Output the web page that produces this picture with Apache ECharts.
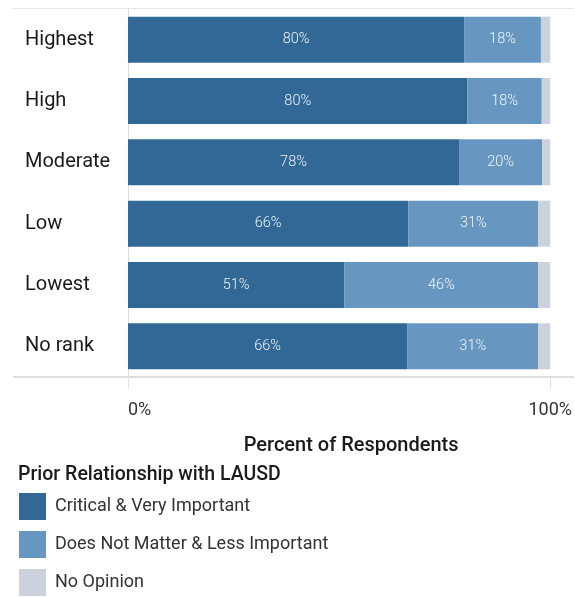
<!DOCTYPE html>
<html><head><meta charset="utf-8">
<script src="https://cdn.jsdelivr.net/npm/echarts@6/dist/echarts.min.js"></script>
<style>html,body{margin:0;padding:0;background:#fff}#c{width:575px;height:597px}</style>
</head><body><div id="c"></div>
<script>
const categories = ['Highest','High','Moderate','Low','Lowest','No rank'];
const seriesNames = ['Critical & Very Important','Does Not Matter & Less Important','No Opinion'];
const critical = [79.6, 80.4, 78.4, 66.4, 51.2, 66.1];
const notMatter = [18.2, 17.6, 19.7, 30.8, 46.0, 31.1];
const noOpinion = [2.2, 2.0, 1.9, 2.8, 2.8, 2.8];
const xTicks = [0, 100];
const colors = ['#326895', '#6797c0', '#cbd2dd'];
const FONT = 'Roboto, "Liberation Sans", sans-serif';

const chart = echarts.init(document.getElementById('c'), null, {renderer:'canvas'});
const lbl = {show:true, position:'inside', color:'rgba(255,255,255,0.92)', fontSize:14.5, fontFamily:FONT, fontWeight:300,
  formatter: p => Math.round(p.value) + '%'};
chart.setOption({
  animation:false,
  color: colors,
  textStyle:{fontFamily:FONT},
  grid:{left:128, right:18, top:9, bottom:220, containLabel:false},
  title:{text:'Prior Relationship with LAUSD', left:13, top:460,
    textStyle:{fontSize:19.5, fontWeight:500, color:'#1a1a1a', fontFamily:FONT}},
  legend:{orient:'vertical', left:19, top:493, padding:0, itemWidth:27, itemHeight:27, itemGap:11, icon:'rect',
    data: seriesNames,
    textStyle:{fontSize:18, color:'#333', fontFamily:FONT, padding:[0,0,0,4]}},
  xAxis:{type:'value', min:xTicks[0], max:xTicks[1], interval:100,
    axisLine:{show:false},
    axisTick:{show:true, length:12, lineStyle:{color:'#e3e3e3'}},
    splitLine:{show:false},
    axisLabel:{fontSize:18, color:'#333', margin:24, formatter: v => v + '%', alignMinLabel:'left'},
    name:'Percent of Respondents', nameLocation:'middle', nameGap:59,
    nameTextStyle:{fontSize:20, fontWeight:500, color:'#1a1a1a', padding:[0,0,0,24]}},
  yAxis:{type:'category', data:categories, inverse:true,
    axisLine:{show:true, lineStyle:{color:'#dcdcdc', width:1}},
    axisTick:{show:false},
    axisLabel:{fontSize:20, color:'#1a1a1a', align:'left', margin:103}},
  graphic:[
    {type:'line', shape:{x1:13,y1:8.5,x2:574,y2:8.5}, style:{stroke:'#e6e6e6', lineWidth:1}, z:0},
    {type:'line', shape:{x1:13,y1:377,x2:574,y2:377}, style:{stroke:'#dedede', lineWidth:2}, z:0}
  ],
  series:[
    {name:seriesNames[0], type:'bar', stack:'s', data:critical, barCategoryGap:'25%', label:lbl},
    {name:seriesNames[1], type:'bar', stack:'s', data:notMatter, label:lbl},
    {name:seriesNames[2], type:'bar', stack:'s', data:noOpinion, label:{show:false}}
  ]
});
</script></body></html>
